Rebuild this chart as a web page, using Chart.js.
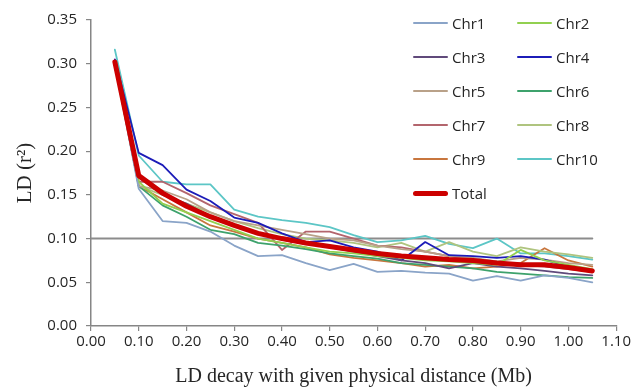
<!DOCTYPE html>
<html>
<head>
<meta charset="utf-8">
<script src="https://cdn.jsdelivr.net/npm/chart.js@4"></script>
<style>
  html, body { margin: 0; padding: 0; background: #fff; }
  .chart__wrapper { position: relative; width: 633px; height: 390px; }
  .legend__box { position: absolute; left: 413px; top: 16px; font-family: "Open Sans", sans-serif; font-size: 15px; color: #262626; }
  .legend__row { display: flex; height: 34px; align-items: center; margin-top: -10px; margin-bottom: 10px; }
  .legend__item { display: flex; align-items: center; width: 104px; }
  .legend__line { width: 35px; margin-right: 4px; border-radius: 3px; }
</style>
</head>
<body>
<div class="chart__wrapper">
  <canvas id="ld-decay-chart" width="633" height="390"></canvas>
  <div class="legend__box" id="ld-legend"></div>
</div>
<script>
  // physical distance (Mb)
  const distances = [0.05, 0.10, 0.15, 0.20, 0.25, 0.30, 0.35, 0.40, 0.45, 0.50, 0.55,
    0.60, 0.65, 0.70, 0.75, 0.80, 0.85, 0.90, 0.95, 1.00, 1.05];

  const chr1 = [0.300, 0.157, 0.120, 0.118, 0.108, 0.092, 0.080, 0.081, 0.072, 0.064, 0.071,
    0.062, 0.063, 0.061, 0.060, 0.052, 0.057, 0.052, 0.058, 0.055, 0.050];
  const chr2 = [0.300, 0.165, 0.140, 0.130, 0.120, 0.110, 0.100, 0.095, 0.090, 0.085, 0.083,
    0.080, 0.078, 0.075, 0.074, 0.072, 0.070, 0.087, 0.075, 0.070, 0.065];
  const chr3 = [0.300, 0.170, 0.150, 0.140, 0.125, 0.115, 0.105, 0.100, 0.095, 0.090, 0.085,
    0.080, 0.075, 0.072, 0.066, 0.072, 0.068, 0.066, 0.063, 0.060, 0.058];
  const chr4 = [0.305, 0.198, 0.184, 0.156, 0.143, 0.124, 0.118, 0.106, 0.096, 0.098, 0.090,
    0.085, 0.075, 0.096, 0.081, 0.080, 0.078, 0.080, 0.076, 0.068, 0.062];
  const chr5 = [0.300, 0.160, 0.155, 0.145, 0.130, 0.120, 0.115, 0.110, 0.105, 0.100, 0.098,
    0.092, 0.088, 0.085, 0.080, 0.078, 0.074, 0.078, 0.076, 0.072, 0.070];
  const chr6 = [0.300, 0.160, 0.138, 0.125, 0.110, 0.105, 0.095, 0.092, 0.088, 0.083, 0.080,
    0.077, 0.072, 0.070, 0.068, 0.066, 0.062, 0.060, 0.058, 0.056, 0.055];
  const chr7 = [0.300, 0.165, 0.165, 0.152, 0.138, 0.128, 0.118, 0.087, 0.108, 0.108, 0.100,
    0.092, 0.090, 0.085, 0.080, 0.075, 0.072, 0.070, 0.068, 0.065, 0.062];
  const chr8 = [0.300, 0.160, 0.150, 0.140, 0.130, 0.120, 0.112, 0.105, 0.100, 0.098, 0.095,
    0.090, 0.095, 0.085, 0.096, 0.085, 0.080, 0.090, 0.085, 0.082, 0.078];
  const chr9 = [0.300, 0.160, 0.145, 0.130, 0.115, 0.108, 0.100, 0.095, 0.090, 0.082, 0.078,
    0.075, 0.072, 0.068, 0.070, 0.066, 0.068, 0.072, 0.089, 0.075, 0.068];
  const chr10 = [0.316, 0.195, 0.165, 0.162, 0.162, 0.133, 0.125, 0.121, 0.118, 0.113, 0.104,
    0.096, 0.098, 0.103, 0.094, 0.089, 0.100, 0.083, 0.083, 0.080, 0.076];
  const total = [0.302, 0.172, 0.152, 0.137, 0.125, 0.115, 0.106, 0.100, 0.095, 0.091, 0.087,
    0.083, 0.080, 0.078, 0.076, 0.075, 0.072, 0.070, 0.070, 0.067, 0.063];

  // horizontal reference at r2 = 0.1
  const refX = [0, 1.05];
  const refY = [0.1, 0.1];

  const seriesNames = ["Chr1", "Chr2", "Chr3", "Chr4", "Chr5", "Chr6", "Chr7", "Chr8", "Chr9", "Chr10"];
  const seriesValues = [chr1, chr2, chr3, chr4, chr5, chr6, chr7, chr8, chr9, chr10];
  const seriesColors = ["#8aa4c8", "#92d050", "#604a7b", "#1c1cb8", "#b9a189",
    "#3da26c", "#b3656d", "#afc47f", "#c8763e", "#5cc6c6"];

  const textColor = "#262626";
  const axisColor = "#868686";

  const toPoints = (xs, ys) => xs.map((x, i) => ({ x: x, y: ys[i] }));

  const datasets = seriesNames.map((name, i) => ({
    label: name,
    data: toPoints(distances, seriesValues[i]),
    borderColor: seriesColors[i],
    backgroundColor: seriesColors[i],
    borderWidth: 1.8,
    pointRadius: 0,
    order: i + 1,
  }));

  datasets.push({
    label: "Total",
    data: toPoints(distances, total),
    borderColor: "#cc0000",
    backgroundColor: "#cc0000",
    borderWidth: 5,
    pointRadius: 0,
    order: 0,
  });

  datasets.push({
    label: "ref",
    data: toPoints(refX, refY),
    borderColor: "#8c8c8c",
    borderWidth: 2,
    pointRadius: 0,
    order: 20,
    hideInLegend: true,
  });

  const htmlLegend = {
    id: "htmlLegend",
    afterUpdate(chart) {
      const box = document.getElementById("ld-legend");
      box.innerHTML = "";
      const items = chart.data.datasets.filter((ds) => !ds.hideInLegend);
      for (let i = 0; i < items.length; i += 2) {
        const row = document.createElement("div");
        row.className = "legend__row";
        items.slice(i, i + 2).forEach((ds) => {
          const item = document.createElement("div");
          item.className = "legend__item";
          const line = document.createElement("span");
          line.className = "legend__line";
          line.style.background = ds.borderColor;
          line.style.height = ds.borderWidth > 3 ? "5px" : "2px";
          const label = document.createElement("span");
          label.textContent = ds.label;
          item.appendChild(line);
          item.appendChild(label);
          row.appendChild(item);
        });
        box.appendChild(row);
      }
    },
  };

  const ctx = document.getElementById("ld-decay-chart").getContext("2d");

  new Chart(ctx, {
    type: "line",
    data: { datasets: datasets },
    options: {
      responsive: false,
      animation: false,
      layout: { padding: { top: 20, right: 15, left: 0, bottom: 0 } },
      plugins: {
        legend: { display: false },
        tooltip: { enabled: false },
      },
      elements: { line: { tension: 0, borderJoinStyle: "round", borderCapStyle: "round" } },
      scales: {
        x: {
          type: "linear",
          min: 0,
          max: 1.1,
          afterFit: (scale) => { scale.height = 64; },
          afterBuildTicks: (scale) => {
            scale.ticks = [0, 0.1, 0.2, 0.3, 0.4, 0.5, 0.6, 0.7, 0.8, 0.9, 1.0, 1.1].map((v) => ({ value: v }));
          },
          grid: { display: true, drawOnChartArea: false, color: axisColor, tickLength: 5, lineWidth: 1.2 },
          border: { color: axisColor, width: 1.5 },
          ticks: {
            color: textColor,
            font: { family: "'Open Sans', sans-serif", size: 15 },
            padding: 2,
            maxRotation: 0,
            callback: (v) => v.toFixed(2),
          },
          title: {
            display: true,
            text: "LD decay with given physical distance (Mb)",
            color: textColor,
            font: { family: "'Liberation Serif', serif", size: 20 },
            padding: { top: 0, bottom: 1 },
          },
        },
        y: {
          min: 0,
          max: 0.35,
          afterFit: (scale) => { scale.width = 91; },
          grid: { display: true, drawOnChartArea: false, color: axisColor, tickLength: 5, lineWidth: 1.2 },
          border: { color: axisColor, width: 1.5 },
          ticks: {
            stepSize: 0.05,
            color: textColor,
            font: { family: "'Open Sans', sans-serif", size: 15 },
            padding: 9,
            callback: (v) => v.toFixed(2),
          },
          title: {
            display: true,
            text: "LD (r²)",
            color: textColor,
            font: { family: "'Liberation Serif', serif", size: 21 },
            padding: { top: 13, bottom: 0 },
          },
        },
      },
    },
    plugins: [htmlLegend],
  });
</script>
</body>
</html>
